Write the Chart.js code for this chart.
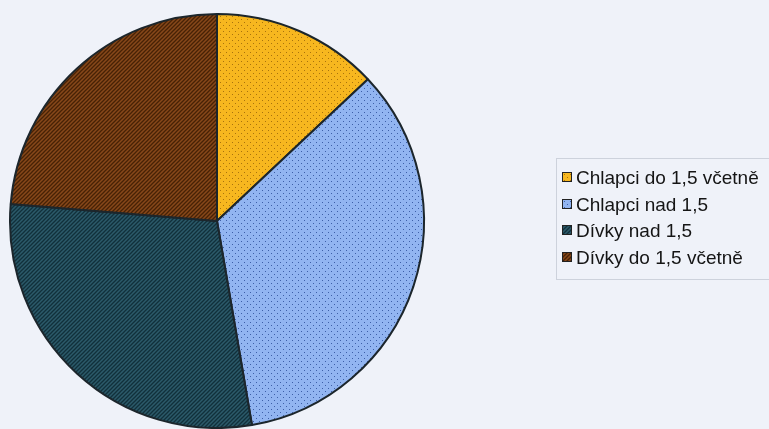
<!DOCTYPE html>
<html>
<head>
<meta charset="utf-8">
<script src="https://cdn.jsdelivr.net/npm/chart.js@4.4.1/dist/chart.umd.min.js"></script>
<style>
    html, body {
        margin: 0;
        padding: 0;
        background: #eff2f9;
    }
    #wrap {
        position: relative;
        width: 769px;
        height: 429px;
        overflow: hidden;
    }
    #pie {
        position: absolute;
        left: 0;
        top: 0;
    }
    #legend {
        position: absolute;
        left: 556px;
        top: 158px;
        width: 220px;
        height: 122px;
        border: 1px solid #cdd2dc;
        box-sizing: border-box;
        font-family: 'Liberation Sans', Arial, sans-serif;
        font-size: 19px;
        color: #151515;
        padding-top: 6px;
    }
    .item {
        height: 26.5px;
        line-height: 26px;
        white-space: nowrap;
    }
    .item canvas {
        display: inline-block;
        vertical-align: middle;
        margin: 0 4px 3px 5px;
        border: 1px solid #222;
    }
</style>
</head>
<body>
<div id="wrap">
    <canvas id="pie" width="769" height="429"></canvas>
    <div id="legend"></div>
</div>
<script>
const labels = [
    'Chlapci do 1,5 včetně',
    'Chlapci nad 1,5',
    'Dívky nad 1,5',
    'Dívky do 1,5 včetně'
];
const values = [13.0, 34.3, 29.0, 23.7];
const baseColors = ['#f7b71f', '#92b5f1', '#2c5a6a', '#87481a'];
const markColors = ['#a9730c', '#3d5fa8', '#11303b', '#472205'];
const patternKinds = ['dots', 'dots', 'stripes', 'stripes'];

// small repeating tiles: dotted for the boys, hatched for the girls
function makeTile(kind, base, mark) {
    const c = document.createElement('canvas');
    const ctx = c.getContext('2d');
    if (kind === 'dots') {
        c.width = 6;
        c.height = 6;
        ctx.fillStyle = base;
        ctx.fillRect(0, 0, 6, 6);
        ctx.fillStyle = mark;
        ctx.fillRect(1, 1, 1, 1);
        ctx.fillRect(4, 4, 1, 1);
    } else {
        c.width = 4;
        c.height = 4;
        ctx.fillStyle = base;
        ctx.fillRect(0, 0, 4, 4);
        ctx.strokeStyle = mark;
        ctx.lineWidth = 1.3;
        ctx.beginPath();
        ctx.moveTo(-1, 5);
        ctx.lineTo(5, -1);
        ctx.moveTo(-1, 1);
        ctx.lineTo(1, -1);
        ctx.moveTo(3, 5);
        ctx.lineTo(5, 3);
        ctx.stroke();
    }
    return c;
}

const mainCtx = document.getElementById('pie').getContext('2d');
const tiles = patternKinds.map((k, i) => makeTile(k, baseColors[i], markColors[i]));
const patterns = tiles.map(t => mainCtx.createPattern(t, 'repeat'));

// legend on the right
const legend = document.getElementById('legend');
labels.forEach((label, i) => {
    const row = document.createElement('div');
    row.className = 'item';
    const sw = document.createElement('canvas');
    sw.width = 8;
    sw.height = 8;
    const sctx = sw.getContext('2d');
    sctx.fillStyle = sctx.createPattern(tiles[i], 'repeat');
    sctx.fillRect(0, 0, 8, 8);
    row.appendChild(sw);
    row.appendChild(document.createTextNode(label));
    legend.appendChild(row);
});

new Chart(mainCtx, {
    type: 'pie',
    data: {
        labels: labels,
        datasets: [{
            data: values,
            backgroundColor: patterns,
            borderColor: '#1c262c',
            borderWidth: 2,
            hoverOffset: 0
        }]
    },
    options: {
        responsive: false,
        devicePixelRatio: 1,
        animation: false,
        layout: {
            padding: { left: 9, top: 13, right: 344, bottom: 0 }
        },
        plugins: {
            legend: { display: false },
            tooltip: { enabled: false }
        }
    }
});
</script>
</body>
</html>
